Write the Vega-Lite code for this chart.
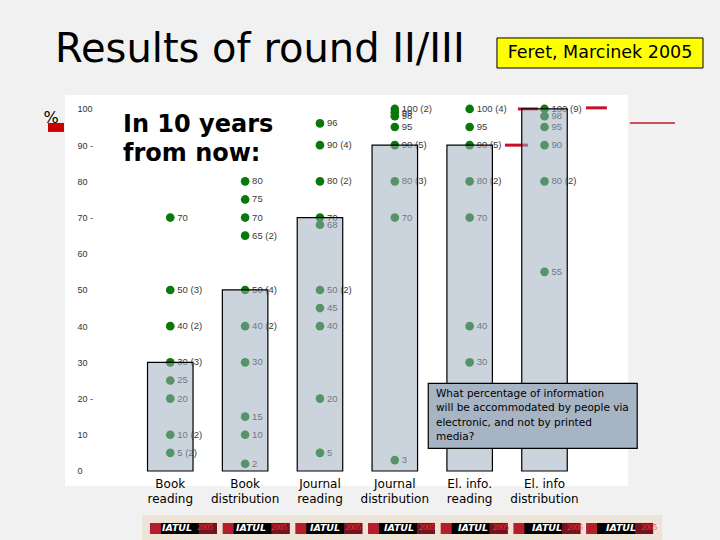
{
  "$schema": "https://vega.github.io/schema/vega-lite/v6.json",
  "width": 563,
  "height": 391,
  "autosize": {"type": "none"},
  "padding": {"left": 65, "top": 95, "right": 92, "bottom": 54},
  "background": "#f1f1f1",
  "config": {
    "view": {"fill": "white", "stroke": null},
    "font": "DejaVu Sans",
    "axisY": {
      "domain": false, "ticks": false, "grid": false, "offset": -12,
      "labelAlign": "left", "labelPadding": 0, "labelFont": "Liberation Sans", "labelFontSize": 9, "labelColor": "#333333",
      "labelOverlap": false, "labelBound": false, "labelFlush": false,
      "titleAngle": 0, "titleX": -26.5, "titleY": 27, "titleAlign": "center", "titleBaseline": "alphabetic",
      "titleFont": "DejaVu Sans", "titleFontSize": 16, "titleFontWeight": "normal", "titleColor": "#000000"
    }
  },
  "datasets": {
    "one": [{}],
    "dots": [
      {"medium": "Book reading", "value": 70, "n": 1, "label": "70"},
      {"medium": "Book reading", "value": 50, "n": 3, "label": "50 (3)"},
      {"medium": "Book reading", "value": 40, "n": 2, "label": "40 (2)"},
      {"medium": "Book reading", "value": 30, "n": 3, "label": "30 (3)"},
      {"medium": "Book reading", "value": 25, "n": 1, "label": "25"},
      {"medium": "Book reading", "value": 20, "n": 1, "label": "20"},
      {"medium": "Book reading", "value": 10, "n": 2, "label": "10 (2)"},
      {"medium": "Book reading", "value": 5, "n": 2, "label": "5 (2)"},
      {"medium": "Book distribution", "value": 80, "n": 1, "label": "80"},
      {"medium": "Book distribution", "value": 75, "n": 1, "label": "75"},
      {"medium": "Book distribution", "value": 70, "n": 1, "label": "70"},
      {"medium": "Book distribution", "value": 65, "n": 2, "label": "65 (2)"},
      {"medium": "Book distribution", "value": 50, "n": 4, "label": "50 (4)"},
      {"medium": "Book distribution", "value": 40, "n": 2, "label": "40 (2)"},
      {"medium": "Book distribution", "value": 30, "n": 1, "label": "30"},
      {"medium": "Book distribution", "value": 15, "n": 1, "label": "15"},
      {"medium": "Book distribution", "value": 10, "n": 1, "label": "10"},
      {"medium": "Book distribution", "value": 2, "n": 1, "label": "2"},
      {"medium": "Journal reading", "value": 96, "n": 1, "label": "96"},
      {"medium": "Journal reading", "value": 90, "n": 4, "label": "90 (4)"},
      {"medium": "Journal reading", "value": 80, "n": 2, "label": "80 (2)"},
      {"medium": "Journal reading", "value": 70, "n": 1, "label": "70"},
      {"medium": "Journal reading", "value": 68, "n": 1, "label": "68"},
      {"medium": "Journal reading", "value": 50, "n": 2, "label": "50 (2)"},
      {"medium": "Journal reading", "value": 45, "n": 1, "label": "45"},
      {"medium": "Journal reading", "value": 40, "n": 1, "label": "40"},
      {"medium": "Journal reading", "value": 20, "n": 1, "label": "20"},
      {"medium": "Journal reading", "value": 5, "n": 1, "label": "5"},
      {"medium": "Journal distribution", "value": 100, "n": 2, "label": "100 (2)"},
      {"medium": "Journal distribution", "value": 99, "n": 1, "label": "99"},
      {"medium": "Journal distribution", "value": 98, "n": 1, "label": "98"},
      {"medium": "Journal distribution", "value": 95, "n": 1, "label": "95"},
      {"medium": "Journal distribution", "value": 90, "n": 5, "label": "90 (5)"},
      {"medium": "Journal distribution", "value": 80, "n": 3, "label": "80 (3)"},
      {"medium": "Journal distribution", "value": 70, "n": 1, "label": "70"},
      {"medium": "Journal distribution", "value": 3, "n": 1, "label": "3"},
      {"medium": "El. info. reading", "value": 100, "n": 4, "label": "100 (4)"},
      {"medium": "El. info. reading", "value": 95, "n": 1, "label": "95"},
      {"medium": "El. info. reading", "value": 90, "n": 5, "label": "90 (5)"},
      {"medium": "El. info. reading", "value": 80, "n": 2, "label": "80 (2)"},
      {"medium": "El. info. reading", "value": 70, "n": 1, "label": "70"},
      {"medium": "El. info. reading", "value": 40, "n": 1, "label": "40"},
      {"medium": "El. info. reading", "value": 30, "n": 1, "label": "30"},
      {"medium": "El. info distribution", "value": 100, "n": 9, "label": "100 (9)"},
      {"medium": "El. info distribution", "value": 98, "n": 1, "label": "98"},
      {"medium": "El. info distribution", "value": 95, "n": 1, "label": "95"},
      {"medium": "El. info distribution", "value": 90, "n": 1, "label": "90"},
      {"medium": "El. info distribution", "value": 80, "n": 2, "label": "80 (2)"},
      {"medium": "El. info distribution", "value": 55, "n": 1, "label": "55"}
    ],
    "medians": [
      {"medium": "Book reading", "median": 30},
      {"medium": "Book distribution", "median": 50},
      {"medium": "Journal reading", "median": 70},
      {"medium": "Journal distribution", "median": 90},
      {"medium": "El. info. reading", "median": 90},
      {"medium": "El. info distribution", "median": 100}
    ],
    "logos": [
      {"slot": 1, "name": "IATUL", "year": "2005"},
      {"slot": 2, "name": "IATUL", "year": "2005"},
      {"slot": 3, "name": "IATUL", "year": "2005"},
      {"slot": 4, "name": "IATUL", "year": "2005"},
      {"slot": 5, "name": "IATUL", "year": "2005"},
      {"slot": 6, "name": "IATUL", "year": "2005"},
      {"slot": 7, "name": "IATUL", "year": "2005"}
    ]
  },
  "resolve": {"scale": {"x": "independent"}},
  "layer": [
    {
      "data": {"name": "dots"},
      "mark": {"type": "circle", "size": 75, "color": "#0a780a", "opacity": 1},
      "encoding": {
        "x": {
          "field": "medium", "type": "nominal",
          "scale": {"type": "band", "domain": ["Book reading", "Book distribution", "Journal reading", "Journal distribution", "El. info. reading", "El. info distribution"], "paddingInner": 0.392, "paddingOuter": 0.957, "align": 0.576},
          "axis": {
            "title": null, "domain": false, "ticks": false, "offset": -10, "labelPadding": 2,
            "labelAngle": 0, "labelFont": "DejaVu Sans", "labelFontSize": 12, "labelColor": "#000000",
            "labelLineHeight": 15, "labelOverlap": false,
            "labelExpr": "[substring(datum.label, 0, lastindexof(datum.label, ' ')), substring(datum.label, lastindexof(datum.label, ' ') + 1)]"
          }
        },
        "y": {"field": "value", "type": "quantitative", "scale": {"domain": [-4.15, 103.85], "nice": false, "zero": false},
              "axis": {"title": "%", "values": [0, 10, 20, 30, 40, 50, 60, 70, 80, 90, 100], "labelOverlap": false, "labelExpr": "datum.value == 90 || datum.value == 70 || datum.value == 20 ? datum.label + ' -' : datum.label"}}
      }
    },
    {
      "data": {"name": "one"},
      "mark": {"type": "rule", "stroke": "#c8102e", "strokeWidth": 3},
      "encoding": {
        "x": {"datum": 5.472, "type": "quantitative", "scale": {"domain": [-0.407, 7.116], "nice": false, "zero": false}, "axis": null},
        "x2": {"datum": 5.779},
        "y": {"datum": 90, "type": "quantitative", "scale": {"domain": [-4.15, 103.85], "nice": false, "zero": false},
              "axis": {"title": "%", "values": [0, 10, 20, 30, 40, 50, 60, 70, 80, 90, 100], "labelOverlap": false, "labelExpr": "datum.value == 90 || datum.value == 70 || datum.value == 20 ? datum.label + ' -' : datum.label"}}
      }
    },
    {
      "data": {"name": "one"},
      "mark": {"type": "rule", "stroke": "#c8102e", "strokeWidth": 3},
      "encoding": {
        "x": {"datum": 5.645, "type": "quantitative", "scale": {"domain": [-0.407, 7.116], "nice": false, "zero": false}, "axis": null},
        "x2": {"datum": 5.912},
        "y": {"datum": 100, "type": "quantitative", "scale": {"domain": [-4.15, 103.85], "nice": false, "zero": false},
              "axis": {"title": "%", "values": [0, 10, 20, 30, 40, 50, 60, 70, 80, 90, 100], "labelOverlap": false, "labelExpr": "datum.value == 90 || datum.value == 70 || datum.value == 20 ? datum.label + ' -' : datum.label"}}
      }
    },
    {
      "data": {"name": "one"},
      "mark": {"type": "rule", "stroke": "#c8102e", "strokeWidth": 3},
      "encoding": {
        "x": {"datum": 6.554, "type": "quantitative", "scale": {"domain": [-0.407, 7.116], "nice": false, "zero": false}, "axis": null},
        "x2": {"datum": 6.834},
        "y": {"datum": 100.3, "type": "quantitative", "scale": {"domain": [-4.15, 103.85], "nice": false, "zero": false},
              "axis": {"title": "%", "values": [0, 10, 20, 30, 40, 50, 60, 70, 80, 90, 100], "labelOverlap": false, "labelExpr": "datum.value == 90 || datum.value == 70 || datum.value == 20 ? datum.label + ' -' : datum.label"}}
      }
    },
    {
      "data": {"name": "dots"},
      "mark": {"type": "text", "align": "left", "baseline": "middle", "dx": 7, "font": "Liberation Sans", "fontSize": 9.5, "color": "#3a3a3a"},
      "encoding": {
        "x": {"field": "medium", "type": "nominal", "scale": {"type": "band", "domain": ["Book reading", "Book distribution", "Journal reading", "Journal distribution", "El. info. reading", "El. info distribution"], "paddingInner": 0.392, "paddingOuter": 0.957, "align": 0.576}, "axis": null},
        "y": {"field": "value", "type": "quantitative", "scale": {"domain": [-4.15, 103.85], "nice": false, "zero": false},
              "axis": {"title": "%", "values": [0, 10, 20, 30, 40, 50, 60, 70, 80, 90, 100], "labelOverlap": false, "labelExpr": "datum.value == 90 || datum.value == 70 || datum.value == 20 ? datum.label + ' -' : datum.label"}},
        "text": {"field": "label"}
      }
    },
    {
      "data": {"name": "medians"},
      "mark": {"type": "bar", "fill": "#9dacbe", "fillOpacity": 0.53, "stroke": "#000000", "strokeWidth": 1.2, "strokeOpacity": 1},
      "encoding": {
        "x": {"field": "medium", "type": "nominal", "scale": {"type": "band", "domain": ["Book reading", "Book distribution", "Journal reading", "Journal distribution", "El. info. reading", "El. info distribution"], "paddingInner": 0.392, "paddingOuter": 0.957, "align": 0.576}, "axis": null},
        "y": {"field": "median", "type": "quantitative", "scale": {"domain": [-4.15, 103.85], "nice": false, "zero": false},
              "axis": {"title": "%", "values": [0, 10, 20, 30, 40, 50, 60, 70, 80, 90, 100], "labelOverlap": false, "labelExpr": "datum.value == 90 || datum.value == 70 || datum.value == 20 ? datum.label + ' -' : datum.label"}},
        "y2": {"datum": 0}
      }
    },
    {
      "data": {"name": "one"},
      "mark": {"type": "text", "align": "left", "baseline": "alphabetic", "font": "DejaVu Sans", "fontSize": 24, "fontWeight": "bold", "lineHeight": 29, "color": "#000000", "text": ["In 10 years", "from now:"]},
      "encoding": {
        "x": {"datum": 0.368, "type": "quantitative", "scale": {"domain": [-0.407, 7.116], "nice": false, "zero": false}, "axis": null},
        "y": {"datum": 93.56, "type": "quantitative", "scale": {"domain": [-4.15, 103.85], "nice": false, "zero": false},
              "axis": {"title": "%", "values": [0, 10, 20, 30, 40, 50, 60, 70, 80, 90, 100], "labelOverlap": false, "labelExpr": "datum.value == 90 || datum.value == 70 || datum.value == 20 ? datum.label + ' -' : datum.label"}}
      }
    },
    {
      "data": {"name": "one"},
      "mark": {"type": "rect", "fill": "#a7b4c4", "stroke": "#000000", "strokeWidth": 1.2},
      "encoding": {
        "x": {"datum": 4.447, "type": "quantitative", "scale": {"domain": [-0.407, 7.116], "nice": false, "zero": false}, "axis": null},
        "x2": {"datum": 7.239},
        "y": {"datum": 24.2, "type": "quantitative", "scale": {"domain": [-4.15, 103.85], "nice": false, "zero": false},
              "axis": {"title": "%", "values": [0, 10, 20, 30, 40, 50, 60, 70, 80, 90, 100], "labelOverlap": false, "labelExpr": "datum.value == 90 || datum.value == 70 || datum.value == 20 ? datum.label + ' -' : datum.label"}},
        "y2": {"datum": 6.27}
      }
    },
    {
      "data": {"name": "one"},
      "mark": {"type": "text", "align": "left", "baseline": "middle", "font": "DejaVu Sans", "fontSize": 10.5, "lineHeight": 14.5, "color": "#000000",
               "text": ["What percentage of information", "will be accommodated by people via", "electronic, and not by printed", "media?"]},
      "encoding": {
        "x": {"datum": 4.55, "type": "quantitative", "scale": {"domain": [-0.407, 7.116], "nice": false, "zero": false}, "axis": null},
        "y": {"datum": 21.27, "type": "quantitative", "scale": {"domain": [-4.15, 103.85], "nice": false, "zero": false},
              "axis": {"title": "%", "values": [0, 10, 20, 30, 40, 50, 60, 70, 80, 90, 100], "labelOverlap": false, "labelExpr": "datum.value == 90 || datum.value == 70 || datum.value == 20 ? datum.label + ' -' : datum.label"}}
      }
    },
    {
      "data": {"name": "one"},
      "mark": {"type": "text", "align": "left", "baseline": "alphabetic", "font": "DejaVu Sans", "fontSize": 40, "color": "#000000", "text": "Results of round II/III"},
      "encoding": {
        "x": {"datum": -0.541, "type": "quantitative", "scale": {"domain": [-0.407, 7.116], "nice": false, "zero": false}, "axis": null},
        "y": {"datum": 113.0, "type": "quantitative", "scale": {"domain": [-4.15, 103.85], "nice": false, "zero": false},
              "axis": {"title": "%", "values": [0, 10, 20, 30, 40, 50, 60, 70, 80, 90, 100], "labelOverlap": false, "labelExpr": "datum.value == 90 || datum.value == 70 || datum.value == 20 ? datum.label + ' -' : datum.label"}}
      }
    },
    {
      "data": {"name": "one"},
      "mark": {"type": "rect", "fill": "#ffff00", "stroke": "#000000", "strokeWidth": 1},
      "encoding": {
        "x": {"datum": 5.365, "type": "quantitative", "scale": {"domain": [-0.407, 7.116], "nice": false, "zero": false}, "axis": null},
        "x2": {"datum": 8.118},
        "y": {"datum": 119.6, "type": "quantitative", "scale": {"domain": [-4.15, 103.85], "nice": false, "zero": false},
              "axis": {"title": "%", "values": [0, 10, 20, 30, 40, 50, 60, 70, 80, 90, 100], "labelOverlap": false, "labelExpr": "datum.value == 90 || datum.value == 70 || datum.value == 20 ? datum.label + ' -' : datum.label"}},
        "y2": {"datum": 111.3}
      }
    },
    {
      "data": {"name": "one"},
      "mark": {"type": "text", "align": "center", "baseline": "middle", "font": "DejaVu Sans", "fontSize": 17.5, "color": "#000000", "text": "Feret, Marcinek 2005"},
      "encoding": {
        "x": {"datum": 6.742, "type": "quantitative", "scale": {"domain": [-0.407, 7.116], "nice": false, "zero": false}, "axis": null},
        "y": {"datum": 115.5, "type": "quantitative", "scale": {"domain": [-4.15, 103.85], "nice": false, "zero": false},
              "axis": {"title": "%", "values": [0, 10, 20, 30, 40, 50, 60, 70, 80, 90, 100], "labelOverlap": false, "labelExpr": "datum.value == 90 || datum.value == 70 || datum.value == 20 ? datum.label + ' -' : datum.label"}}
      }
    },
    {
      "data": {"name": "one"},
      "mark": {"type": "rect", "fill": "#cc0000"},
      "encoding": {
        "x": {"datum": -0.634, "type": "quantitative", "scale": {"domain": [-0.407, 7.116], "nice": false, "zero": false}, "axis": null},
        "x2": {"datum": -0.42},
        "y": {"datum": 96.13, "type": "quantitative", "scale": {"domain": [-4.15, 103.85], "nice": false, "zero": false},
              "axis": {"title": "%", "values": [0, 10, 20, 30, 40, 50, 60, 70, 80, 90, 100], "labelOverlap": false, "labelExpr": "datum.value == 90 || datum.value == 70 || datum.value == 20 ? datum.label + ' -' : datum.label"}},
        "y2": {"datum": 93.65}
      }
    },
    {
      "data": {"name": "one"},
      "mark": {"type": "rule", "stroke": "#c0182a", "strokeWidth": 1.5},
      "encoding": {
        "x": {"datum": 7.141, "type": "quantitative", "scale": {"domain": [-0.407, 7.116], "nice": false, "zero": false}, "axis": null},
        "x2": {"datum": 7.743},
        "y": {"datum": 96.1, "type": "quantitative", "scale": {"domain": [-4.15, 103.85], "nice": false, "zero": false},
              "axis": {"title": "%", "values": [0, 10, 20, 30, 40, 50, 60, 70, 80, 90, 100], "labelOverlap": false, "labelExpr": "datum.value == 90 || datum.value == 70 || datum.value == 20 ? datum.label + ' -' : datum.label"}}
      }
    },
    {
      "data": {"name": "one"},
      "mark": {"type": "rect", "fill": "#ede3d6"},
      "encoding": {
        "x": {"datum": 0.4795, "type": "quantitative", "scale": {"domain": [-0.561, 7.047], "nice": false, "zero": false}, "axis": null},
        "x2": {"datum": 7.507},
        "y": {"datum": -12.15, "type": "quantitative", "scale": {"domain": [-4.15, 103.85], "nice": false, "zero": false},
              "axis": {"title": "%", "values": [0, 10, 20, 30, 40, 50, 60, 70, 80, 90, 100], "labelOverlap": false, "labelExpr": "datum.value == 90 || datum.value == 70 || datum.value == 20 ? datum.label + ' -' : datum.label"}},
        "y2": {"datum": -19.06}
      }
    },
    {
      "data": {"name": "logos"},
      "mark": {"type": "bar", "width": 67, "fill": "#b41e2c"},
      "encoding": {
        "x": {"field": "slot", "type": "quantitative", "scale": {"domain": [-0.561, 7.047], "nice": false, "zero": false}, "axis": null},
        "y": {"datum": -14.36, "type": "quantitative", "scale": {"domain": [-4.15, 103.85], "nice": false, "zero": false},
              "axis": {"title": "%", "values": [0, 10, 20, 30, 40, 50, 60, 70, 80, 90, 100], "labelOverlap": false, "labelExpr": "datum.value == 90 || datum.value == 70 || datum.value == 20 ? datum.label + ' -' : datum.label"}},
        "y2": {"datum": -17.4}
      }
    },
    {
      "data": {"name": "logos"},
      "mark": {"type": "bar", "width": 38, "xOffset": -3.5, "fill": "#000000"},
      "encoding": {
        "x": {"field": "slot", "type": "quantitative", "scale": {"domain": [-0.561, 7.047], "nice": false, "zero": false}, "axis": null},
        "y": {"datum": -14.36, "type": "quantitative", "scale": {"domain": [-4.15, 103.85], "nice": false, "zero": false},
              "axis": {"title": "%", "values": [0, 10, 20, 30, 40, 50, 60, 70, 80, 90, 100], "labelOverlap": false, "labelExpr": "datum.value == 90 || datum.value == 70 || datum.value == 20 ? datum.label + ' -' : datum.label"}},
        "y2": {"datum": -17.4}
      }
    },
    {
      "data": {"name": "logos"},
      "mark": {"type": "bar", "width": 18, "xOffset": 24.5, "fill": "#741220"},
      "encoding": {
        "x": {"field": "slot", "type": "quantitative", "scale": {"domain": [-0.561, 7.047], "nice": false, "zero": false}, "axis": null},
        "y": {"datum": -14.36, "type": "quantitative", "scale": {"domain": [-4.15, 103.85], "nice": false, "zero": false},
              "axis": {"title": "%", "values": [0, 10, 20, 30, 40, 50, 60, 70, 80, 90, 100], "labelOverlap": false, "labelExpr": "datum.value == 90 || datum.value == 70 || datum.value == 20 ? datum.label + ' -' : datum.label"}},
        "y2": {"datum": -17.4}
      }
    },
    {
      "data": {"name": "logos"},
      "mark": {"type": "text", "align": "center", "baseline": "middle", "xOffset": -3.5, "font": "DejaVu Sans", "fontSize": 9.5, "fontWeight": "bold", "fontStyle": "italic", "color": "#ffffff"},
      "encoding": {
        "x": {"field": "slot", "type": "quantitative", "scale": {"domain": [-0.561, 7.047], "nice": false, "zero": false}, "axis": null},
        "y": {"datum": -15.88, "type": "quantitative", "scale": {"domain": [-4.15, 103.85], "nice": false, "zero": false},
              "axis": {"title": "%", "values": [0, 10, 20, 30, 40, 50, 60, 70, 80, 90, 100], "labelOverlap": false, "labelExpr": "datum.value == 90 || datum.value == 70 || datum.value == 20 ? datum.label + ' -' : datum.label"}},
        "text": {"field": "name"}
      }
    },
    {
      "data": {"name": "logos"},
      "mark": {"type": "text", "align": "center", "baseline": "middle", "xOffset": 24.5, "font": "Liberation Sans Narrow", "fontSize": 8, "color": "#e8404c"},
      "encoding": {
        "x": {"field": "slot", "type": "quantitative", "scale": {"domain": [-0.561, 7.047], "nice": false, "zero": false}, "axis": null},
        "y": {"datum": -15.88, "type": "quantitative", "scale": {"domain": [-4.15, 103.85], "nice": false, "zero": false},
              "axis": {"title": "%", "values": [0, 10, 20, 30, 40, 50, 60, 70, 80, 90, 100], "labelOverlap": false, "labelExpr": "datum.value == 90 || datum.value == 70 || datum.value == 20 ? datum.label + ' -' : datum.label"}},
        "text": {"field": "year"}
      }
    }
  ]
}
